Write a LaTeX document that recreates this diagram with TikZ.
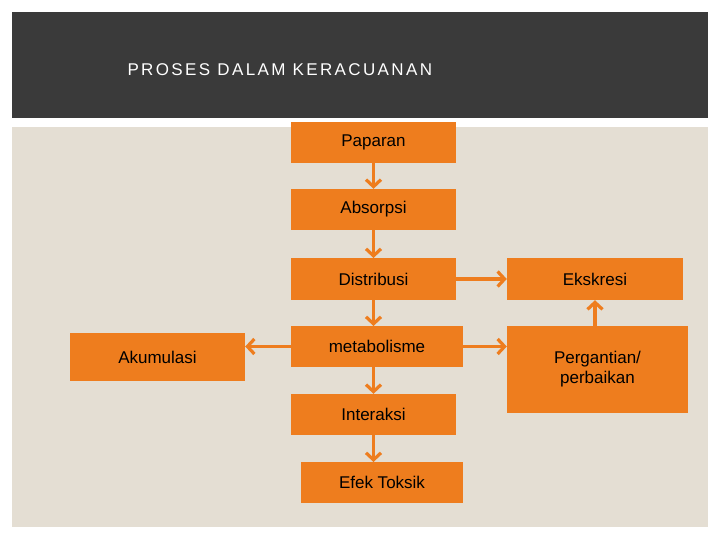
\documentclass[tikz,border=0pt]{standalone}
\usepackage{fontspec}
\setmainfont{Liberation Sans}
\usetikzlibrary{arrows.meta}
\definecolor{org}{HTML}{EE7D1E}
\definecolor{hdr}{HTML}{3A3A3A}
\definecolor{bg}{HTML}{E4DED3}
\begin{document}
\begin{tikzpicture}[x=1pt,y=-1pt,
  bx/.style={fill=org,inner sep=0pt,font=\fontsize{17}{20}\selectfont,text=black,align=center},
  ar/.style={draw=org,line width=3.2pt,-{Straight Barb[length=7pt,width=15pt,line width=3.2pt]}}]
\useasboundingbox (0,0) rectangle (720,540);
\fill[white] (0,0) rectangle (720,540);
\fill[hdr] (12,12) rectangle (708,118);
\fill[bg] (12,127) rectangle (708,527);
\node[text=white,anchor=west,font=\fontsize{17}{20}\selectfont\addfontfeatures{LetterSpace=14}] (title) at (124,70) {PROSES DALAM KERACUANAN};
\node[bx,minimum width=165pt,minimum height=41pt] (pap) at (373.5,142.5) {Paparan};
\node[bx,minimum width=165pt,minimum height=41pt] (abs) at (373.5,209.5) {Absorpsi};
\node[bx,minimum width=165pt,minimum height=42pt] (dis) at (373.5,279) {Distribusi};
\node[bx,minimum width=172pt,minimum height=41pt] (met) at (377,346.5) {metabolisme};
\node[bx,minimum width=165pt,minimum height=41pt] (int) at (373.5,414.5) {Interaksi};
\node[bx,minimum width=162pt,minimum height=41pt] (efk) at (382,482.5) {Efek Toksik};
\node[bx,minimum width=176pt,minimum height=42pt] (eks) at (595,279) {Ekskresi};
\node[bx,minimum width=181pt,minimum height=87pt] (per) at (597.5,369.5) {Pergantian/\\perbaikan};
\node[bx,minimum width=175pt,minimum height=48pt] (aku) at (157.5,357) {Akumulasi};
\draw[ar] (373.5,163) -- (abs.north -| 373.5,0);
\draw[ar] (373.5,230) -- (373.5,258);
\draw[ar] (dis.south) -- (373.5,326);
\draw[ar] (met.south -| 373.5,0) -- (int.north);
\draw[ar] (int.south) -- (373.5,462);
\draw[ar] (dis.east) -- (eks.west);
\draw[ar] (met.east) -- (per.west |- met.east);
\draw[ar] (met.west) -- (aku.east |- met.west);
\draw[ar] (per.north -| eks.south) -- (eks.south);
\end{tikzpicture}
\end{document}
